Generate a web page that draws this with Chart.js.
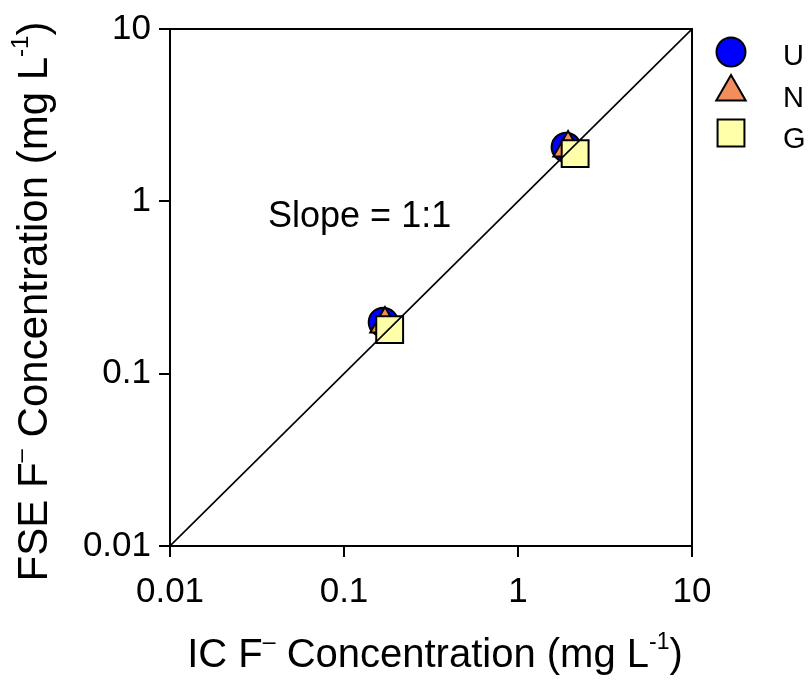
<!DOCTYPE html>
<html>
<head>
<meta charset="utf-8">
<title>FSE vs IC fluoride</title>
<script src="https://cdn.jsdelivr.net/npm/chart.js@4.4.0/dist/chart.umd.min.js"></script>
<style>
  html, body { margin: 0; padding: 0; background: #fff; }
  #wrap { width: 809px; height: 681px; }
</style>
</head>
<body>
<div id="wrap"><canvas id="fseChart" width="809" height="681"></canvas></div>
<script>
(function () {
  // Fluoride, FSE reading vs IC reference (mg/L), log-log
  const tickValues = [0.01, 0.1, 1, 10];
  const tickLabels = ["0.01", "0.1", "1", "10"];
  const seriesNames = ["U", "N", "G"];
  const icU = [0.168, 1.89];
  const fseU = [0.199, 2.06];
  const icN = [0.172, 1.94];
  const fseN = [0.194, 2.04];
  const icG = [0.183, 2.13];
  const fseG = [0.180, 1.89];
  const oneToOne = [0.01, 10];
  const slopeText = "Slope = 1:1";
  const slopeAt = [0.0366, 0.71];

  const FONT = '"Liberation Sans", Arial, Helvetica, sans-serif';
  const styles = [
    { pointStyle: "circle", radius: 14.5, fill: "#0000ff" },
    { pointStyle: "triangle", radius: 17, fill: "#f28d5c" },
    { pointStyle: "rect", radius: 19, fill: "#ffffaa" }
  ];

  function pts(xs, ys) {
    return xs.map(function (x, i) { return { x: x, y: ys[i] }; });
  }

  function scatterSet(label, data, st, order) {
    return {
      type: "scatter",
      label: label,
      data: data,
      order: order,
      pointStyle: st.pointStyle,
      pointRadius: st.radius,
      pointBackgroundColor: st.fill,
      pointBorderColor: "#000",
      pointBorderWidth: 2
    };
  }

  // text with superscript runs, e.g. "mg L" + "-1"
  function drawRich(ctx, parts, size, x, y, align) {
    const supSize = Math.round(size * 0.58);
    let total = 0;
    parts.forEach(function (p) {
      ctx.font = (p.sup ? supSize : size) + "px " + FONT;
      p.w = ctx.measureText(p.t).width;
      total += p.w;
    });
    let cx = align === "center" ? x - total / 2 : x;
    ctx.textAlign = "left";
    ctx.textBaseline = "alphabetic";
    parts.forEach(function (p) {
      ctx.font = (p.sup ? supSize : size) + "px " + FONT;
      ctx.fillText(p.t, cx, p.sup ? y - size * 0.45 : y);
      cx += p.w;
    });
  }

  function titleParts(prefix) {
    return [
      { t: prefix + " F" }, { t: "\u2013", sup: true },
      { t: " Concentration (mg L" }, { t: "-1", sup: true }, { t: ")" }
    ];
  }

  function legendMarker(ctx, st, x, y) {
    const r = st.radius;
    ctx.beginPath();
    if (st.pointStyle === "circle") {
      ctx.arc(x, y, r, 0, Math.PI * 2);
    } else if (st.pointStyle === "triangle") {
      ctx.moveTo(x, y - r);
      ctx.lineTo(x + r * Math.sin(2 * Math.PI / 3), y - r * Math.cos(2 * Math.PI / 3));
      ctx.lineTo(x + r * Math.sin(4 * Math.PI / 3), y - r * Math.cos(4 * Math.PI / 3));
      ctx.closePath();
    } else {
      const s = r * Math.SQRT1_2;
      ctx.rect(x - s, y - s, 2 * s, 2 * s);
    }
    ctx.fillStyle = st.fill;
    ctx.fill();
    ctx.lineWidth = 2;
    ctx.strokeStyle = "#000";
    ctx.stroke();
  }

  const decorPlugin = {
    id: "decor",
    beforeDatasetsDraw: function (chart) {
      const a = chart.chartArea;
      const ctx = chart.ctx;
      ctx.save();
      ctx.strokeStyle = "#000";
      ctx.lineWidth = 2;
      ctx.beginPath();
      ctx.moveTo(a.left - 1, a.top);
      ctx.lineTo(a.right, a.top);
      ctx.lineTo(a.right, a.bottom);
      ctx.stroke();
      ctx.restore();
    },
    afterDraw: function (chart) {
      const ctx = chart.ctx;
      const a = chart.chartArea;
      const xs = chart.scales.x;
      const ys = chart.scales.y;
      ctx.save();
      ctx.fillStyle = "#000";

      // axis titles
      drawRich(ctx, titleParts("IC"), 40, (a.left + a.right) / 2 + 4, 667, "center");

      ctx.save();
      ctx.translate(47, (a.top + a.bottom) / 2 + 14);
      ctx.rotate(-Math.PI / 2);
      drawRich(ctx, titleParts("FSE"), 42, 0, 0, "center");
      ctx.restore();

      // slope annotation
      ctx.font = "36px " + FONT;
      ctx.textAlign = "left";
      ctx.textBaseline = "alphabetic";
      ctx.fillText(slopeText, xs.getPixelForValue(slopeAt[0]), ys.getPixelForValue(slopeAt[1]));

      // legend
      const rowY = [52, 92, 133];
      const textY = [65, 107, 148];
      seriesNames.forEach(function (name, i) {
        legendMarker(ctx, styles[i], 731, rowY[i]);
        ctx.fillStyle = "#000";
        ctx.font = "29px " + FONT;
        ctx.fillText(name, 783, textY[i]);
      });
      ctx.restore();
    }
  };

  function logAxis(position, fitSize) {
    return {
      type: "logarithmic",
      position: position,
      min: 0.01,
      max: 10,
      afterBuildTicks: function (scale) {
        scale.ticks = tickValues.map(function (v) { return { value: v }; });
      },
      afterFit: function (scale) {
        if (position === "left") scale.width = fitSize;
        else scale.height = fitSize;
      },
      ticks: {
        color: "#000",
        font: { family: FONT, size: 35 },
        padding: position === "left" ? 8 : 14,
        autoSkip: false,
        maxRotation: 0,
        callback: function (v) {
          const i = tickValues.indexOf(v);
          return i < 0 ? "" : tickLabels[i];
        }
      },
      grid: {
        drawOnChartArea: false,
        drawTicks: true,
        tickLength: 11,
        color: "#000",
        lineWidth: 2
      },
      border: { display: true, color: "#000", width: 2 },
      title: { display: false }
    };
  }

  const ctx = document.getElementById("fseChart");
  new Chart(ctx, {
    data: {
      datasets: [
        {
          type: "line",
          label: "1:1",
          data: pts(oneToOne, oneToOne),
          borderColor: "#000",
          borderWidth: 1.6,
          pointRadius: 0,
          fill: false,
          order: 0
        },
        scatterSet(seriesNames[2], pts(icG, fseG), styles[2], 1),
        scatterSet(seriesNames[1], pts(icN, fseN), styles[1], 2),
        scatterSet(seriesNames[0], pts(icU, fseU), styles[0], 3)
      ]
    },
    options: {
      responsive: false,
      animation: false,
      events: [],
      layout: { padding: { top: 26, right: 117, left: 0, bottom: 0 } },
      plugins: { legend: { display: false }, tooltip: { enabled: false } },
      scales: {
        x: logAxis("bottom", 135),
        y: logAxis("left", 170)
      }
    },
    plugins: [decorPlugin]
  });
})();
</script>
</body>
</html>
